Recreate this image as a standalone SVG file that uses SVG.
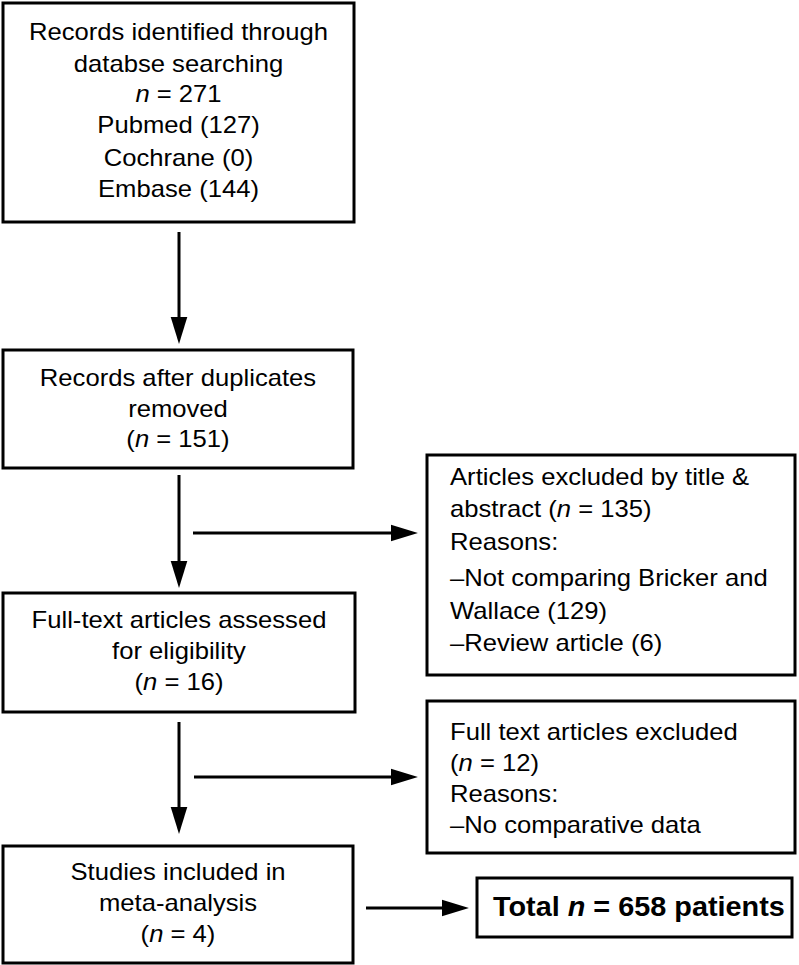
<svg xmlns="http://www.w3.org/2000/svg" width="799" height="965" viewBox="0 0 799 965">
<style>
.box{fill:#fff;stroke:#000;stroke-width:3}
.t{font-family:"Liberation Sans",Arial,Helvetica,sans-serif;font-size:23px;fill:#000}
.c{text-anchor:middle}
.b{font-family:"Liberation Sans",Arial,Helvetica,sans-serif;font-size:28px;font-weight:bold;fill:#000}
.i{font-style:italic}
.ln{stroke:#000;stroke-width:3;fill:none}
</style>
<defs>
<marker id="ah" markerUnits="userSpaceOnUse" markerWidth="27" markerHeight="18" refX="1" refY="8" orient="auto" viewBox="0 0 26 16">
<path d="M0,0 L26,8 L0,16 Z" fill="#000"/>
</marker>
</defs>
<rect width="799" height="965" fill="#fff"/>
<g id="connectors">
<line class="ln" x1="179" y1="232" x2="179" y2="318" marker-end="url(#ah)"/>
<line class="ln" x1="179" y1="475" x2="179" y2="562" marker-end="url(#ah)"/>
<line class="ln" x1="179" y1="722" x2="179" y2="808" marker-end="url(#ah)"/>
<line class="ln" x1="193" y1="533" x2="392" y2="533" marker-end="url(#ah)"/>
<line class="ln" x1="194" y1="777" x2="392" y2="777" marker-end="url(#ah)"/>
<line class="ln" x1="366" y1="908" x2="443" y2="908" marker-end="url(#ah)"/>
</g>
<g id="records">
<rect class="box" x="3" y="3" width="351" height="219"/>
<g transform="translate(178.5 0) scale(1.115 1)">
<text class="t c" x="0" y="40">Records identified through</text>
<text class="t c" x="0" y="72">databse searching</text>
<text class="t c" x="0" y="102"><tspan class="i">n</tspan> = 271</text>
<text class="t c" x="0" y="133">Pubmed (127)</text>
<text class="t c" x="0" y="166">Cochrane (0)</text>
<text class="t c" x="0" y="197">Embase (144)</text>
</g>
</g>
<g id="dedup">
<rect class="box" x="3" y="350" width="350" height="118"/>
<g transform="translate(178 0) scale(1.115 1)">
<text class="t c" x="0" y="386">Records after duplicates</text>
<text class="t c" x="0" y="417">removed</text>
<text class="t c" x="0" y="447">(<tspan class="i">n</tspan> = 151)</text>
</g>
</g>
<g id="excluded1">
<rect class="box" x="427" y="455" width="368" height="220"/>
<g transform="translate(450 0) scale(1.115 1)">
<text class="t" x="0" y="485">Articles excluded by title &amp;</text>
<text class="t" x="0" y="517">abstract (<tspan class="i">n</tspan> = 135)</text>
<text class="t" x="0" y="550">Reasons:</text>
<text class="t" x="0" y="586">–Not comparing Bricker and</text>
<text class="t" x="0" y="619">Wallace (129)</text>
<text class="t" x="0" y="651">–Review article (6)</text>
</g>
</g>
<g id="fulltext">
<rect class="box" x="3" y="593" width="352" height="119"/>
<g transform="translate(179 0) scale(1.115 1)">
<text class="t c" x="0" y="628">Full-text articles assessed</text>
<text class="t c" x="0" y="659">for eligibility</text>
<text class="t c" x="0" y="690">(<tspan class="i">n</tspan> = 16)</text>
</g>
</g>
<g id="excluded2">
<rect class="box" x="427" y="701" width="368" height="152"/>
<g transform="translate(450 0) scale(1.115 1)">
<text class="t" x="0" y="740">Full text articles excluded</text>
<text class="t" x="0" y="771">(<tspan class="i">n</tspan> = 12)</text>
<text class="t" x="0" y="802">Reasons:</text>
<text class="t" x="0" y="833">–No comparative data</text>
</g>
</g>
<g id="included">
<rect class="box" x="3" y="846" width="350" height="117"/>
<g transform="translate(178 0) scale(1.115 1)">
<text class="t c" x="0" y="880">Studies included in</text>
<text class="t c" x="0" y="911">meta-analysis</text>
<text class="t c" x="0" y="942">(<tspan class="i">n</tspan> = 4)</text>
</g>
</g>
<g id="total">
<rect class="box" x="477" y="878" width="315" height="59"/>
<g transform="translate(493 0) scale(1.03 1)">
<text class="b" x="0" y="916">Total <tspan class="i">n</tspan> = 658 patients</text>
</g>
</g>
</svg>
